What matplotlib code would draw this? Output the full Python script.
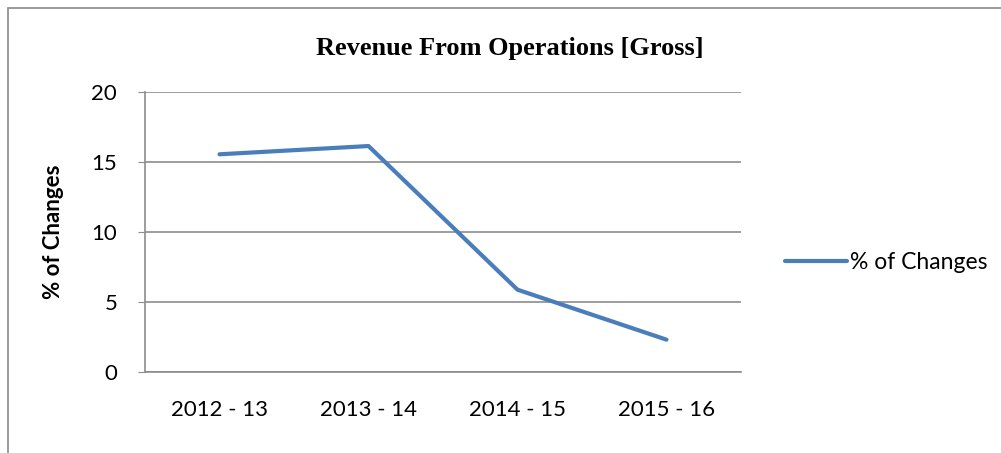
import matplotlib
matplotlib.use("Agg")
import matplotlib.pyplot as plt
from matplotlib.patches import Rectangle

# data
years = ["2012 - 13", "2013 - 14", "2014 - 15", "2015 - 16"]
pct_changes = [15.55, 16.14, 5.88, 2.31]
y_ticks = [0, 5, 10, 15, 20]

LINE_BLUE = "#4A7EBB"
GRID_GRAY = "#8C8C8C"
TICK_FONT = ["Lato", "DejaVu Sans"]

fig = plt.figure(figsize=(10.01, 4.53), dpi=100)
fig.patch.set_facecolor("white")

# chart frame (Excel-style outer border)
fig.add_artist(Rectangle((8 / 1001, -0.01), 1.0, 1 - 8 / 453 + 0.01,
                         transform=fig.transFigure, fill=False,
                         edgecolor="#8A8A8A", linewidth=1.2))

ax = fig.add_axes([145 / 1001, 81 / 453, 596 / 1001, 280 / 453])
x = list(range(len(years)))
ax.plot(x, pct_changes, color=LINE_BLUE, linewidth=3.0,
        solid_capstyle="round", solid_joinstyle="round", label="% of Changes")

ax.set_xlim(-0.5, len(years) - 0.5)
ax.set_ylim(0, 20)
ax.set_yticks(y_ticks)
ax.set_xticks(x)
ax.set_xticklabels(years, family=TICK_FONT, fontsize=16)
ax.set_yticklabels([str(t) for t in y_ticks], family=TICK_FONT, fontsize=16)
ax.tick_params(axis="y", length=5, color=GRID_GRAY, pad=15)
ax.tick_params(axis="x", length=0, pad=20)

ax.yaxis.grid(True, color=GRID_GRAY, linewidth=1.2)
ax.set_axisbelow(True)
for side in ("top", "right"):
    ax.spines[side].set_visible(False)
for side in ("left", "bottom"):
    ax.spines[side].set_color(GRID_GRAY)
    ax.spines[side].set_linewidth(1.2)

ax.set_ylabel("% of Changes", family=TICK_FONT, fontsize=16,
              fontweight="bold", labelpad=20)
fig.text(510 / 1001, 1 - 48 / 453, "Revenue From Operations [Gross]",
         ha="center", va="center", family=["Liberation Serif"],
         fontsize=19, fontweight="bold")

ax.legend(loc="center left", bbox_to_anchor=(1.04, 0.39), frameon=False,
          handlelength=2.7, handletextpad=0.1,
          prop={"family": TICK_FONT, "size": 16.5})

fig.savefig("out.png", dpi=100)
plt.close(fig)
